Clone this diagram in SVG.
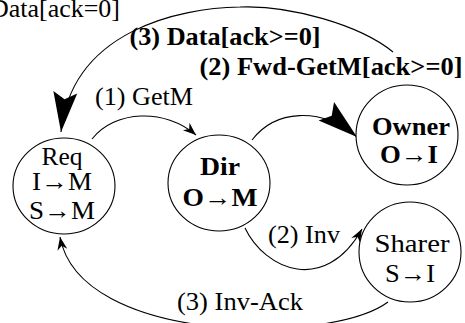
<svg xmlns="http://www.w3.org/2000/svg" width="465" height="323" viewBox="0 0 465 323">
<style>
text{font-family:"Liberation Serif","Times New Roman",serif;font-size:25px;fill:#000;text-anchor:middle}
.b{font-weight:bold}
.n{fill:#fff;stroke:#000;stroke-width:1.1}
.e{fill:none;stroke:#000;stroke-width:1.1}
</style>
<defs>
<marker id="big" markerUnits="userSpaceOnUse" markerWidth="44" markerHeight="30" viewBox="-42 -14 44 28" refX="0" refY="0" orient="auto">
<path d="M0,0 L-40,-12 L-33,0 L-40,12 Z" fill="#000"/>
</marker>
<marker id="small" markerUnits="userSpaceOnUse" markerWidth="16" markerHeight="12" viewBox="-14 -6 16 12" refX="0" refY="0" orient="auto">
<path d="M0,0 L-13,-5 L-9,0 L-13,5 Z" fill="#000"/>
</marker>
</defs>
<rect width="465" height="323" fill="#fff"/>
<g id="connectors">
<path class="e" d="M92,139 C115,110 165,108 196,135" marker-end="url(#small)"/>
<path class="e" d="M252,140 C275,110 320,106 357,137" marker-end="url(#big)"/>
<path class="e" d="M393,52 C360,25 290,5 240,7 C180,8 72,30 61,132" marker-end="url(#big)"/>
<path class="e" d="M245,228 C265,270 325,295 362,229" marker-end="url(#small)"/>
<path class="e" d="M388,302 C330,345 80,345 60,237" marker-end="url(#small)"/>
</g>
<g id="req">
<ellipse class="n" cx="64" cy="186" rx="51" ry="48"/>
<text x="62" y="165" textLength="41" lengthAdjust="spacingAndGlyphs">Req</text>
<text x="62" y="190" textLength="60" lengthAdjust="spacingAndGlyphs">I→M</text>
<text x="62" y="219" textLength="66" lengthAdjust="spacingAndGlyphs">S→M</text>
</g>
<g id="dir">
<ellipse class="n" cx="219" cy="183" rx="51" ry="48"/>
<text class="b" x="220" y="175" textLength="40" lengthAdjust="spacingAndGlyphs">Dir</text>
<text class="b" x="220" y="206" textLength="75" lengthAdjust="spacingAndGlyphs">O→M</text>
</g>
<g id="owner">
<ellipse class="n" cx="407" cy="135" rx="51" ry="50"/>
<text class="b" x="411" y="135" textLength="78" lengthAdjust="spacingAndGlyphs">Owner</text>
<text class="b" x="409" y="163" textLength="58" lengthAdjust="spacingAndGlyphs">O→I</text>
</g>
<g id="sharer">
<ellipse class="n" cx="410" cy="252" rx="51" ry="50"/>
<text x="412" y="252" textLength="75" lengthAdjust="spacingAndGlyphs">Sharer</text>
<text x="410" y="282" textLength="50" lengthAdjust="spacingAndGlyphs">S→I</text>
</g>
<g id="labels">
<text x="144" y="105" textLength="98" lengthAdjust="spacingAndGlyphs">(1) GetM</text>
<text class="b" x="225" y="45" textLength="191" lengthAdjust="spacingAndGlyphs">(3) Data[ack&gt;=0]</text>
<text class="b" x="331" y="75" textLength="263" lengthAdjust="spacingAndGlyphs">(2) Fwd-GetM[ack&gt;=0]</text>
<text x="120" y="17" style="text-anchor:end" textLength="130" lengthAdjust="spacingAndGlyphs">Data[ack=0]</text>
<text x="304" y="243" textLength="72" lengthAdjust="spacingAndGlyphs">(2) Inv</text>
<text x="240" y="310" textLength="126" lengthAdjust="spacingAndGlyphs">(3) Inv-Ack</text>
</g>
</svg>
